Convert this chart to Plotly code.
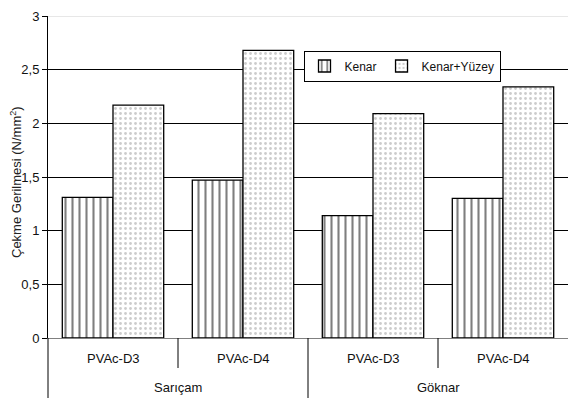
import plotly.graph_objects as go

species = ["Sarıçam", "Sarıçam", "Göknar", "Göknar"]
adhesives = ["PVAc-D3", "PVAc-D4", "PVAc-D3", "PVAc-D4"]
kenar = [1.31, 1.47, 1.14, 1.30]
kenar_yuzey = [2.17, 2.68, 2.09, 2.34]
series_names = ["Kenar", "Kenar+Yüzey"]
y_title = "Çekme Gerilmesi (N/mm<sup>2</sup>)"

W, H = 573, 398
L, R, T, B = 48, 5, 16, 60
pw, ph = W - L - R, H - T - B
FONT = "Liberation Sans, Arial, sans-serif"

keys = [f"{s} {a}" for s, a in zip(species, adhesives)]
n = len(keys)

fig = go.Figure()
fig.add_trace(go.Bar(
    x=keys, y=kenar, name=series_names[0],
    marker=dict(color="white", line=dict(color="black", width=1.3),
                pattern=dict(shape="|", fgcolor="black", bgcolor="white",
                             size=7, solidity=0.3)),
))
fig.add_trace(go.Bar(
    x=keys, y=kenar_yuzey, name=series_names[1],
    marker=dict(color="white", line=dict(color="black", width=1.3),
                pattern=dict(shape=".", fgcolor="#9a9a9a", bgcolor="white",
                             size=5, solidity=0.25)),
))

fig.update_layout(
    width=W, height=H,
    margin=dict(l=L, r=R, t=T, b=B, autoexpand=False),
    paper_bgcolor="white", plot_bgcolor="white",
    separators=",.",
    barmode="group", bargap=0.22, bargroupgap=0,
    font=dict(family=FONT, size=13, color="#111"),
    showlegend=True,
    legend=dict(orientation="h", x=(402 - L) / pw, y=(338 - 66) / ph,
                xanchor="center", yanchor="middle",
                bordercolor="black", borderwidth=1, bgcolor="white",
                font=dict(size=12), itemwidth=30, tracegroupgap=0),
)
fig.update_yaxes(range=[0, 3], dtick=0.5, showgrid=True, gridcolor="black",
                 gridwidth=1, showline=True, linecolor="black", linewidth=1,
                 ticks="outside", ticklen=5, tickcolor="black",
                 zeroline=False, tickfont=dict(size=13), automargin=False)
fig.update_xaxes(showline=True, linecolor="#808080", linewidth=1,
                 showticklabels=False, ticks="", automargin=False)
fig.add_shape(type="line", xref="paper", yref="y", x0=0, x1=1, y0=3, y1=3,
              line=dict(color="#d0d0d0", width=1), layer="above")

# category labels (inner level)
for k, a in zip(keys, adhesives):
    fig.add_annotation(text=a, x=k, xref="x", y=-20.5 / ph, yref="paper",
                       showarrow=False, xanchor="center", yanchor="middle",
                       font=dict(size=13))
# outer level labels and dividers
groups = []
for i, s in enumerate(species):
    if not groups or groups[-1][0] != s:
        groups.append([s, i, i])
    else:
        groups[-1][2] = i
for s, i0, i1 in groups:
    fig.add_annotation(text=s, x=(i0 + i1 + 1) / 2 / n, xref="paper",
                       y=-49 / ph, yref="paper", showarrow=False,
                       xanchor="center", yanchor="middle", font=dict(size=13))
    fig.add_shape(type="line", xref="paper", yref="paper",
                  x0=i0 / n, x1=i0 / n, y0=0, y1=-B / ph,
                  line=dict(color="black", width=1))
    for j in range(i0 + 1, i1 + 1):
        fig.add_shape(type="line", xref="paper", yref="paper",
                      x0=j / n, x1=j / n, y0=0, y1=-30 / ph,
                      line=dict(color="black", width=1))

fig.add_annotation(text=y_title, xref="paper", yref="paper",
                   x=(16 - L) / pw, y=(338 - 182) / ph, textangle=-90,
                   showarrow=False, font=dict(size=13, color="#222"),
                   xanchor="center", yanchor="middle")

fig.write_html("out.html",
               config={"displayModeBar": False},
               post_script="document.body.style.margin='0';"
                           "document.body.style.padding='0';")
